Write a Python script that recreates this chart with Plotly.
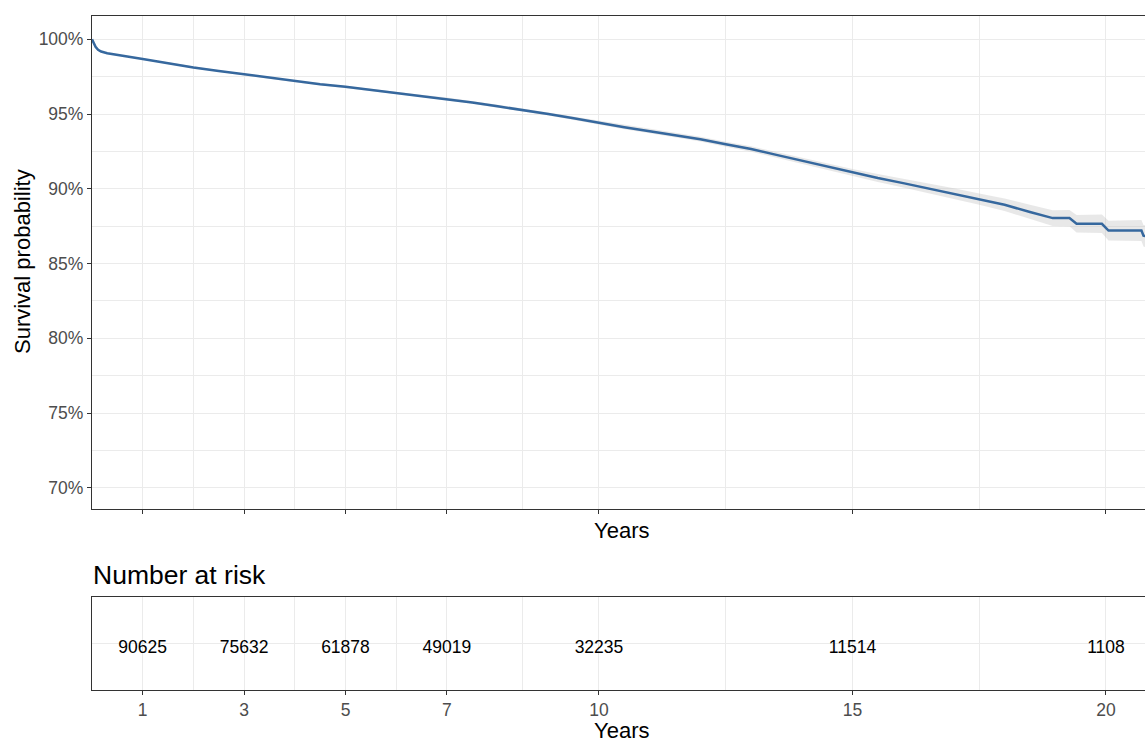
import plotly.graph_objects as go

# ---- data ----
time_years = [0, 0.03, 0.07, 0.12, 0.18, 0.3, 0.5, 1.0, 1.5, 2.0, 2.5, 3.0, 3.5, 4.0, 4.5,
              5.0, 5.5, 6.0, 6.5, 7.0, 7.5, 8.0, 8.5, 9.0, 9.5, 10.0, 10.5, 11.0, 11.5,
              12.0, 12.5, 13.0, 13.5, 14.0, 14.5, 15.0, 15.5, 16.0, 16.5, 17.0, 17.5,
              18.0, 18.5, 18.95, 19.28, 19.42, 19.92, 20.05, 20.70, 20.74, 20.95]
survival_pct = [100.0, 99.75, 99.5, 99.3, 99.18, 99.07, 98.95, 98.68, 98.40, 98.11, 97.88,
                97.65, 97.42, 97.18, 97.00, 96.82, 96.62, 96.42, 96.22, 96.02, 95.78, 95.52,
                95.28, 95.00, 94.72, 94.40, 94.12, 93.85, 93.58, 93.32, 92.98, 92.66, 92.27,
                91.88, 91.46, 91.07, 90.72, 90.38, 90.02, 89.68, 89.31, 88.93, 88.45, 88.04,
                88.04, 87.66, 87.66, 87.21, 87.21, 86.86, 86.70]
ci_half_pct = [0.0, 0.01, 0.02, 0.02, 0.03, 0.03, 0.04, 0.05, 0.05, 0.05, 0.05, 0.06, 0.06,
               0.06, 0.07, 0.07, 0.07, 0.08, 0.08, 0.08, 0.09, 0.09, 0.10, 0.10, 0.11, 0.12,
               0.13, 0.14, 0.15, 0.16, 0.17, 0.18, 0.20, 0.21, 0.23, 0.25, 0.27, 0.30, 0.32,
               0.35, 0.38, 0.42, 0.48, 0.52, 0.55, 0.58, 0.62, 0.66, 0.70, 0.72, 0.75]

risk_times = [1, 3, 5, 7, 10, 15, 20]
risk_counts = [90625, 75632, 61878, 49019, 32235, 11514, 1108]

x_major = [1, 3, 5, 7, 10, 15, 20]
x_minor = [2, 4, 6, 8.5, 12.5, 17.5]
y_major = [0.70, 0.75, 0.80, 0.85, 0.90, 0.95, 1.00]
y_minor = [0.725, 0.775, 0.825, 0.875, 0.925, 0.975]

# ---- derived ----
surv = [v / 100 for v in survival_pct]
upper = [(v + h) / 100 for v, h in zip(survival_pct, ci_half_pct)]
lower = [(v - h) / 100 for v, h in zip(survival_pct, ci_half_pct)]

W, H = 1145, 742
FONT = "Liberation Sans, Arial, sans-serif"
TICKCOL = "#4D4D4D"
AXCOL = "#333333"
GRID = "#EBEBEB"
LINE = "#36689E"

def px_x(p):
    return p / W

def px_y(p):
    return 1 - p / H

x_dom = [px_x(92), 1.0]
top_dom = [px_y(509), px_y(16)]
bot_dom = [px_y(690), px_y(597)]
x_range = [0, 20.77]

fig = go.Figure()

fig.add_trace(go.Scatter(x=time_years, y=upper, mode="lines", line=dict(width=0),
                         hoverinfo="skip", showlegend=False, xaxis="x", yaxis="y"))
fig.add_trace(go.Scatter(x=time_years, y=lower, mode="lines", line=dict(width=0),
                         fill="tonexty", fillcolor="rgba(190,190,190,0.35)",
                         hoverinfo="skip", showlegend=False, xaxis="x", yaxis="y"))
fig.add_trace(go.Scatter(x=time_years, y=surv, mode="lines",
                         line=dict(color=LINE, width=2.5),
                         showlegend=False, xaxis="x", yaxis="y"))

fig.add_trace(go.Scatter(x=risk_times, y=[0.9] * len(risk_times), mode="text",
                         text=[str(c) for c in risk_counts], textposition="middle center",
                         textfont=dict(family=FONT, size=17.5, color="black"),
                         showlegend=False, xaxis="x2", yaxis="y2"))

common_x = dict(
    range=x_range, domain=x_dom, tickvals=x_major, showgrid=True, gridcolor=GRID, gridwidth=1.2,
    minor=dict(tickvals=x_minor, showgrid=True, gridcolor=GRID, gridwidth=1, ticks=""),
    showline=True, linecolor=AXCOL, linewidth=1.2, mirror=True,
    ticks="outside", ticklen=4, tickcolor=AXCOL, tickwidth=1.2,
    zeroline=False,
    tickfont=dict(family=FONT, size=17.5, color=TICKCOL),
)

fig.update_layout(
    width=W, height=H,
    margin=dict(l=0, r=0, t=0, b=0),
    paper_bgcolor="white", plot_bgcolor="white",
    xaxis=dict(common_x, anchor="y", showticklabels=False),
    yaxis=dict(domain=top_dom, range=[0.6858, 1.0156], tickvals=y_major, tickformat=".0%",
               showgrid=True, gridcolor=GRID, gridwidth=1.2,
               minor=dict(tickvals=y_minor, showgrid=True, gridcolor=GRID, gridwidth=1, ticks=""),
               showline=True, linecolor=AXCOL, linewidth=1.2,
               ticks="outside", ticklen=4, tickcolor=AXCOL, tickwidth=1.2, zeroline=False,
               tickfont=dict(family=FONT, size=17.5, color=TICKCOL), anchor="x"),
    xaxis2=dict(common_x, anchor="y2", showticklabels=True),
    yaxis2=dict(domain=bot_dom, range=[0, 2], tickvals=[1], showticklabels=False, ticks="",
                showgrid=True, gridcolor=GRID, gridwidth=1.2, showline=True,
                linecolor=AXCOL, linewidth=1.2, zeroline=False, anchor="x2"),
    annotations=[
        dict(text="Years", x=px_x(621), y=px_y(530), xref="paper", yref="paper",
             showarrow=False, font=dict(family=FONT, size=22, color="black"),
             xanchor="center", yanchor="middle"),
        dict(text="Years", x=px_x(621), y=px_y(730), xref="paper", yref="paper",
             showarrow=False, font=dict(family=FONT, size=22, color="black"),
             xanchor="center", yanchor="middle"),
        dict(text="Survival probability", x=px_x(22), y=px_y(262), xref="paper", yref="paper",
             showarrow=False, textangle=-90, font=dict(family=FONT, size=22, color="black"),
             xanchor="center", yanchor="middle"),
        dict(text="Number at risk", x=px_x(91), y=px_y(575), xref="paper", yref="paper",
             showarrow=False, font=dict(family=FONT, size=26.5, color="black"),
             xanchor="left", yanchor="middle"),
    ],
)

fig.write_html("out.html", config={"displayModeBar": False},
               post_script="document.body.style.margin='0px';document.body.style.overflow='hidden';")
